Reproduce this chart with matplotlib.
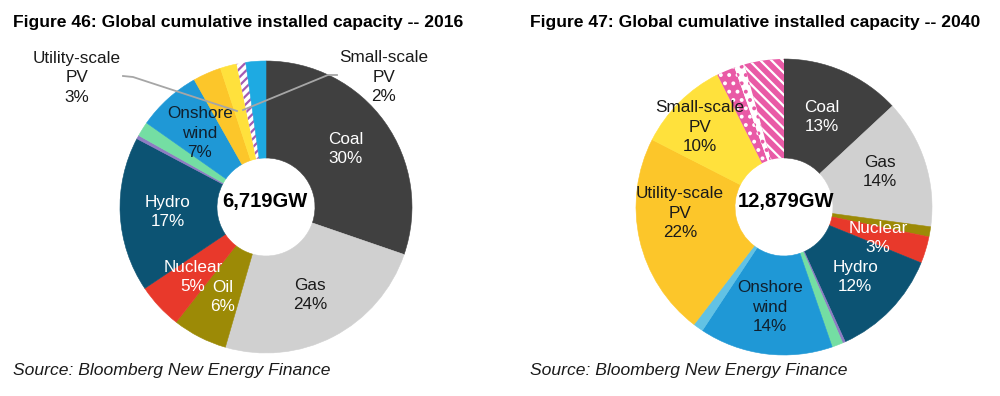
import matplotlib
matplotlib.use("Agg")
import matplotlib.pyplot as plt

plt.rcParams["font.family"] = ["Liberation Sans", "DejaVu Sans"]
plt.rcParams["hatch.linewidth"] = 1.6

# Segments listed clockwise from 12 o'clock.
cats_2016 = ["Coal", "Gas", "Oil", "Nuclear", "Hydro", "Bioenergy", "Geothermal",
             "Onshore wind", "Utility-scale PV", "Small-scale PV", "Storage",
             "Offshore wind"]
share_2016 = [30, 24, 6, 5, 17, 0.4, 1.6, 7, 3.1, 1.8, 1.0, 2.2]

cats_2040 = ["Coal", "Gas", "Oil", "Nuclear", "Hydro", "Bioenergy", "Geothermal",
             "Onshore wind", "Offshore wind", "Utility-scale PV", "Small-scale PV",
             "Storage (utility)", "Storage (behind meter)", "Storage (other)"]
share_2040 = [13, 14, 1.1, 2.9, 12, 0.3, 1.2, 14.5, 1.1, 22, 10, 2.0, 1.1, 4.3]

total_2016 = "6,719GW"
total_2040 = "12,879GW"

labels_2016 = ["Coal\n30%", "Gas\n24%", "Oil\n6%", "Nuclear\n5%", "Hydro\n17%",
               "Onshore\nwind\n7%", "Utility-scale\nPV\n3%", "Small-scale\nPV\n2%"]
labels_2040 = ["Coal\n13%", "Gas\n14%", "Nuclear\n3%", "Hydro\n12%",
               "Onshore\nwind\n14%", "Utility-scale\nPV\n22%", "Small-scale\nPV\n10%"]

# style per category: (facecolor, hatch colour, hatch)
style = {
    "Coal": ("#404040", None, None),
    "Gas": ("#d0d0d0", None, None),
    "Oil": ("#9c8a06", None, None),
    "Nuclear": ("#e8392b", None, None),
    "Hydro": ("#0c5373", None, None),
    "Bioenergy": ("#8e7cc3", None, None),
    "Geothermal": ("#74dea3", None, None),
    "Onshore wind": ("#1f98d6", None, None),
    "Offshore wind": ("#1eaae2", None, None),
    "Utility-scale PV": ("#fcc62a", None, None),
    "Small-scale PV": ("#ffe13c", None, None),
    "Storage": ("white", "#a45cb4", "////"),
    "Storage (utility)": ("#e95aa6", "white", ".."),
    "Storage (behind meter)": ("white", "#e95aa6", ".."),
    "Storage (other)": ("#e95aa6", "white", "\\\\\\"),
}

# layout in pixels (y measured from the top of the image)
W, H = 1000, 396
left_c, left_r = (266, 207), 146
right_c, right_r = (784, 207), 148
hole = 49

pos_2016 = [(346, 149, "white"), (310, 295, "#1a1a1a"), (223, 297, "white"),
            (193, 277, "white"), (168, 212, "white"), (200, 133, "#10202e"),
            (77, 78, "#1a1a1a"), (384, 77, "#1a1a1a")]
pos_2040 = [(822, 117, "white"), (880, 172, "#1a1a1a"), (878, 238, "white"),
            (855, 277, "white"), (770, 307, "#10202e"), (680, 213, "#1a1a1a"),
            (700, 127, "#1a1a1a")]

fig = plt.figure(figsize=(10, 3.96), dpi=100)
ax = fig.add_axes([0, 0, 1, 1])


def donut(cats, vals, c, r, year_pie_colours=None):
    wedges, _ = ax.pie(vals, startangle=90, counterclock=False, radius=r,
                       center=(c[0], H - c[1]),
                       wedgeprops=dict(width=r - hole))
    for w, cat in zip(wedges, cats):
        fc, hc, hatch = style[cat]
        if year_pie_colours and cat in year_pie_colours:
            fc = year_pie_colours[cat]
        w.set_facecolor(fc)
        if hatch:
            w.set_edgecolor(hc)
            w.set_hatch(hatch)
            w.set_linewidth(0)
        else:
            w.set_edgecolor(fc)
            w.set_linewidth(0.4)
    return wedges


donut(cats_2016, share_2016, left_c, left_r)
donut(cats_2040, share_2040, right_c, right_r, {"Offshore wind": "#62c2e4"})

for txt, (x, y, col) in zip(labels_2016, pos_2016):
    ax.text(x, H - y, txt, ha="center", va="center", fontsize=12.3,
            color=col, linespacing=1.4)
for txt, (x, y, col) in zip(labels_2040, pos_2040):
    ax.text(x, H - y, txt, ha="center", va="center", fontsize=12.3,
            color=col, linespacing=1.4)

ax.text(265, H - 202, total_2016, ha="center", va="center", fontsize=14.5,
        fontweight="bold", color="black")
ax.text(786, H - 202, total_2040, ha="center", va="center", fontsize=14.5,
        fontweight="bold", color="black")

# leader lines for the small PV slices
lead_util = [(123, 76), (133, 77), (237, 111)]
lead_small = [(337, 75), (328, 75), (243, 110)]
for pts in (lead_util, lead_small):
    ax.plot([p[0] for p in pts], [H - p[1] for p in pts], color="#a6a6a6",
            lw=1.3, zorder=5)

ax.text(13, H - 27, "Figure 46: Global cumulative installed capacity -- 2016",
        fontsize=12.6, fontweight="bold", va="baseline", ha="left")
ax.text(530, H - 27, "Figure 47: Global cumulative installed capacity -- 2040",
        fontsize=12.6, fontweight="bold", va="baseline", ha="left")
ax.text(13, H - 375, "Source: Bloomberg New Energy Finance", fontsize=12.6,
        style="italic", va="baseline", ha="left", color="#1a1a1a")
ax.text(530, H - 375, "Source: Bloomberg New Energy Finance", fontsize=12.6,
        style="italic", va="baseline", ha="left", color="#1a1a1a")

ax.set_xlim(0, W)
ax.set_ylim(0, H)
ax.set_aspect("equal")
ax.axis("off")

fig.savefig("out.png", dpi=100, facecolor="white")
